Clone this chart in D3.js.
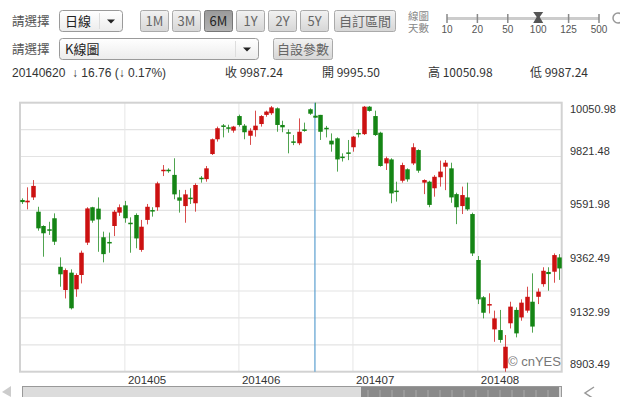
<!DOCTYPE html>
<html>
<head>
<meta charset="utf-8">
<title>K線圖</title>
<script src="https://d3js.org/d3.v7.min.js"></script>
<style>
  body { margin: 0; background: #fff; }
  svg { display: block; font-family: "Liberation Sans", Arial, "Noto Sans CJK TC", sans-serif; }
</style>
</head>
<body>
<div id="chart"></div>
<script>
// daily candles, 100 trading days (slider = 100)
var opens = [9636,9626,9647,9586,9525,9511,9558,9351,9252,9326,
             9255,9316,9454,9605,9599,9477,9457,9525,9582,9613,
             9539,9572,9423,9551,9593,9605,9762,9765,9743,9647,
             9610,9646,9622,9731,9725,9832,9895,9954,9946,9932,
             9994,9953,9910,9934,9960,9999,10006,10027,9956,9925,
             9886,9878,9937,10023,9995.50,9999,9944,9889,9899,9821,
             9839,9861,9922,9917,10034,9994,9923,9792,9809,9676,
             9718,9767,9792,9849,9710,9714,9686,9733,9778,9771,
             9661,9610,9647,9576,9380,9221,9187,9084,9081,8918,
             9110,9167,9135,9164,9202,9223,9277,9329,9330,9391];
var highs = [9643,9690,9721,9607,9528,9543,9579,9391,9344,9340,
             9323,9420,9605,9607,9647,9501,9497,9593,9617,9632,
             9562,9579,9551,9619,9605,9714,9785,9771,9814,9679,
             9679,9686,9707,9738,9781,9898,9949,9960,9957,9952,
             10000,9960,9942,10017,9998,10017,10037,10031,9974,9937,
             9913,9984,9966,10027,10050.98,9999,9952,9920,9903,9835,
             9892,9909,9937,10037,10037,10017,9927,9821,9814,9714,
             9795,9771,9878,9852,9724,9718,9742,9804,9806,9795,
             9667,9693,9710,9582,9397,9226,9238,9164,9167,9060,
             9202,9178,9212,9266,9323,9259,9349,9349,9408,9405];
var lows =  [9619,9596,9636,9505,9394,9487,9444,9266,9216,9169,
             9223,9280,9444,9539,9415,9370,9411,9482,9568,9539,
             9411,9430,9415,9532,9565,9590,9738,9752,9639,9582,
             9539,9619,9586,9710,9714,9828,9885,9903,9923,9923,
             9949,9895,9871,9906,9949,9991,9999,9927,9925,9835,
             9870,9870,9927,9999,9987.24,9892,9903,9842,9757,9800,
             9806,9842,9903,9913,10013,9909,9778,9764,9622,9629,
             9710,9714,9785,9752,9661,9605,9650,9693,9678,9624,
             9533,9576,9590,9397,9192,9131,9152,9031,9027,8903.49,
             9088,9050,9121,9155,9070,9192,9266,9249,9283,9295];
var closes = [9627,9633,9696,9515,9494,9505,9458,9319,9337,9174,
             9316,9411,9600,9548,9553,9405,9451,9586,9605,9558,
             9533,9472,9522,9607,9588,9707,9765,9762,9660,9633,
             9660,9642,9700,9727,9771,9895,9942,9949,9942,9949,
             9956,9925,9932,9953,9994,10013,10031,9956,9946,9922,
             9882,9927,9932,10004.00,9987.24,9927,9941,9873,9809,9819,
             9837,9906,9920,10034,10016,9913,9781,9814,9664,9674,
             9785,9724,9861,9761,9721,9615,9735,9757,9795,9647,
             9605,9657,9596,9408,9212,9155,9192,9131,9039,9010,
             9181,9067,9198,9223,9096,9245,9334,9320,9401,9344];

var yTickLabels = ["10050.98","9821.48","9591.98","9362.49","9132.99","8903.49"];
var monthLabels = ["201405","201406","201407","201408"];
var monthStartIdx = [19,40,61,84];
var rangeButtons = ["1M","3M","6M","1Y","2Y","5Y"];
var sliderLabels = ["10","20","50","100","125","500"];
var selectedIdx = 54;
var infoDate = "20140620";
var infoChange = "↓ 16.76 (↓ 0.17%)";
var infoItems = ["收 9987.24","開 9995.50","高 10050.98","低 9987.24"];

var W = 620, H = 397;
var svg = d3.select("#chart").append("svg").attr("width", W).attr("height", H);

var red = "#cc1111", green = "#158515";
var cjk = "'Noto Sans CJK TC', 'Liberation Sans', sans-serif";

// ---------- top controls ----------
var defs = svg.append("defs");
var g1 = defs.append("linearGradient").attr("id","btn").attr("x1",0).attr("x2",0).attr("y1",0).attr("y2",1);
g1.append("stop").attr("offset","0%").attr("stop-color","#f2f2f2");
g1.append("stop").attr("offset","100%").attr("stop-color","#d6d6d6");
var g2 = defs.append("linearGradient").attr("id","btnOn").attr("x1",0).attr("x2",0).attr("y1",0).attr("y2",1);
g2.append("stop").attr("offset","0%").attr("stop-color","#9a9a9a");
g2.append("stop").attr("offset","100%").attr("stop-color","#b4b4b4");
var g3 = defs.append("linearGradient").attr("id","sel").attr("x1",0).attr("x2",0).attr("y1",0).attr("y2",1);
g3.append("stop").attr("offset","0%").attr("stop-color","#ffffff");
g3.append("stop").attr("offset","100%").attr("stop-color","#ececec");

function label(x, y, t, opt) {
  opt = opt || {};
  return svg.append("text").attr("x", x).attr("y", y).text(t)
    .attr("font-size", opt.size || 12)
    .attr("fill", opt.fill || "#333")
    .attr("text-anchor", opt.anchor || "start")
    .attr("font-family", opt.family || null)
    .attr("font-weight", opt.weight || null);
}

function button(x, y, w, h, t, on) {
  svg.append("rect").attr("x", x+0.5).attr("y", y+0.5).attr("width", w).attr("height", h)
    .attr("rx", 2).attr("fill", on ? "url(#btnOn)" : "url(#btn)")
    .attr("stroke", on ? "#777" : "#aaa");
  label(x + w/2 + 0.5, y + h/2 + 5, t, {anchor:"middle", size:13, fill: on ? "#222" : "#666", family: cjk});
}

function dropdown(x, y, w, h, t) {
  svg.append("rect").attr("x", x+0.5).attr("y", y+0.5).attr("width", w).attr("height", h)
    .attr("rx", 3).attr("fill", "url(#sel)").attr("stroke", "#9a9a9a");
  svg.append("line").attr("x1", x+w-22.5).attr("x2", x+w-22.5).attr("y1", y+3).attr("y2", y+h-2)
    .attr("stroke", "#ddd");
  var ax = x + w - 11, ay = y + h/2 + 1;
  svg.append("path").attr("d", "M"+(ax-4)+","+(ay-2)+"L"+(ax+4)+","+(ay-2)+"L"+ax+","+(ay+2)+"Z").attr("fill","#222");
  label(x + 6, y + h/2 + 5, t, {size:13, fill:"#222", family: cjk});
}

label(12, 26, "請選擇", {size:12.5, fill:"#555", family: cjk});
dropdown(59, 10, 63, 21, "日線");
var btnX = [140,172,204,236,268,300];
rangeButtons.forEach(function(b, i) { button(btnX[i], 10, 28, 21, b, b === "6M"); });
button(334, 10, 61, 21, "自訂區間", false);

label(408, 20, "線圖", {size:10.5, fill:"#888", family: cjk});
label(408, 32, "天數", {size:10.5, fill:"#888", family: cjk});

var sx = d3.scalePoint().domain(sliderLabels).range([447, 599]);
svg.append("line").attr("x1", 447).attr("x2", 599).attr("y1", 18.5).attr("y2", 18.5)
  .attr("stroke", "#ccc").attr("stroke-width", 3);
sliderLabels.forEach(function(s) {
  svg.append("line").attr("x1", sx(s)).attr("x2", sx(s)).attr("y1", 14).attr("y2", 23)
    .attr("stroke", "#888").attr("stroke-width", 1.5);
  label(sx(s), 33, s, {size:10, fill:"#555", anchor:"middle"});
});
var tx = sx("100");
svg.append("path").attr("d", "M"+(tx-5)+",12L"+(tx+5)+",12L"+(tx+1.5)+",17L"+(tx+5)+",23L"+(tx-5)+",23L"+(tx-1.5)+",17Z")
  .attr("fill", "#555");
svg.append("circle").attr("cx", 618).attr("cy", 18).attr("r", 5).attr("fill","none").attr("stroke","#999").attr("stroke-width",1.5);

label(12, 54, "請選擇", {size:12.5, fill:"#555", family: cjk});
dropdown(59, 38, 199, 21, "K線圖");
button(273, 38, 59, 21, "自設參數", false);

// info row
label(12, 77, infoDate, {size:12, fill:"#333"});
label(72, 77, infoChange, {size:12, fill:"#333"});
var infoX = [225, 322, 428, 530];
infoItems.forEach(function(t, i) { label(infoX[i], 77, t, {size:12, fill:"#333", family: cjk}); });

// ---------- chart ----------
var plotL = 20, plotR = 561.7, plotT = 102.7, plotB = 371.7;
var yMin = 8903.49, yMax = 10050.98;
var x = d3.scaleBand().domain(d3.range(opens.length)).range([19, 562]).padding(0);
var y = d3.scaleLinear().domain([yMin, yMax]).range([plotB, plotT]);
var cx = function(i) { return x(i) + x.bandwidth()/2; };

var grid = svg.append("g");
d3.range(1, 10).forEach(function(k) {
  var yy = y(yMin + k * (yMax - yMin) / 10);
  grid.append("line").attr("x1", plotL).attr("x2", plotR).attr("y1", yy).attr("y2", yy)
    .attr("stroke", "#e3e3e3").attr("stroke-width", 1.2);
});
monthStartIdx.forEach(function(m, i) {
  var xx = cx(m);
  grid.append("line").attr("x1", xx).attr("x2", xx).attr("y1", plotT).attr("y2", plotB)
    .attr("stroke", "#e6e6e6").attr("stroke-width", 1);
  label(xx + 3, 384, monthLabels[i], {size:11.5, fill:"#333"});
});

svg.append("rect").attr("x", plotL).attr("y", plotT).attr("width", plotR-plotL).attr("height", plotB-plotT)
  .attr("fill", "none").attr("stroke", "#d2d2d2").attr("stroke-width", 2);

// y labels (every other gridline)
yTickLabels.forEach(function(t, k) {
  var yy = y(yMax - k * (yMax - yMin) / 5);
  var off = k === 0 ? 10 : (k === yTickLabels.length - 1 ? -4 : -2);
  label(570, yy + off, t, {size:11, fill:"#333"});
});

// watermark
label(508, 366, "© cnYES", {size:13, fill:"#777"});

// selected day marker
svg.append("line").attr("x1", cx(selectedIdx)).attr("x2", cx(selectedIdx)).attr("y1", plotT).attr("y2", plotB)
  .attr("stroke", "#5b9fd0").attr("stroke-width", 1.2);

var candles = svg.append("g").selectAll("g").data(d3.range(opens.length)).enter().append("g");
candles.append("line")
  .attr("x1", function(i) { return Math.round(cx(i)) + 0.5; })
  .attr("x2", function(i) { return Math.round(cx(i)) + 0.5; })
  .attr("y1", function(i) { return y(highs[i]); })
  .attr("y2", function(i) { return y(lows[i]); })
  .attr("stroke", function(i) { return closes[i] >= opens[i] ? red : green; })
  .attr("stroke-opacity", 0.75)
  .attr("stroke-width", 1);
candles.append("rect")
  .attr("x", function(i) { return Math.round(cx(i)) - 1.75; })
  .attr("width", 4.5)
  .attr("y", function(i) { return y(Math.max(opens[i], closes[i])); })
  .attr("height", function(i) { return Math.max(1.5, Math.abs(y(opens[i]) - y(closes[i]))); })
  .attr("fill", function(i) { return closes[i] >= opens[i] ? red : green; });

// ---------- scrollbar ----------
svg.append("rect").attr("x", 22.5).attr("y", 386.5).attr("width", 539).attr("height", 14)
  .attr("fill", "#dcdcdc").attr("stroke", "#999");
svg.append("rect").attr("x", 361).attr("y", 387).attr("width", 198).attr("height", 13).attr("fill", "#8a8a8a");
d3.range(0, 16).forEach(function(k) {
  var xx = 368 + k * 12;
  svg.append("line").attr("x1", xx).attr("x2", xx).attr("y1", 390).attr("y2", 397).attr("stroke", "#aaa");
});
svg.append("path").attr("d", "M2,392L11,386L11,397Z").attr("fill", "#ccc");
svg.append("path").attr("d", "M594,387L585,393L594,399").attr("fill", "none").attr("stroke", "#999").attr("stroke-width", 1.5);
</script>
</body>
</html>
